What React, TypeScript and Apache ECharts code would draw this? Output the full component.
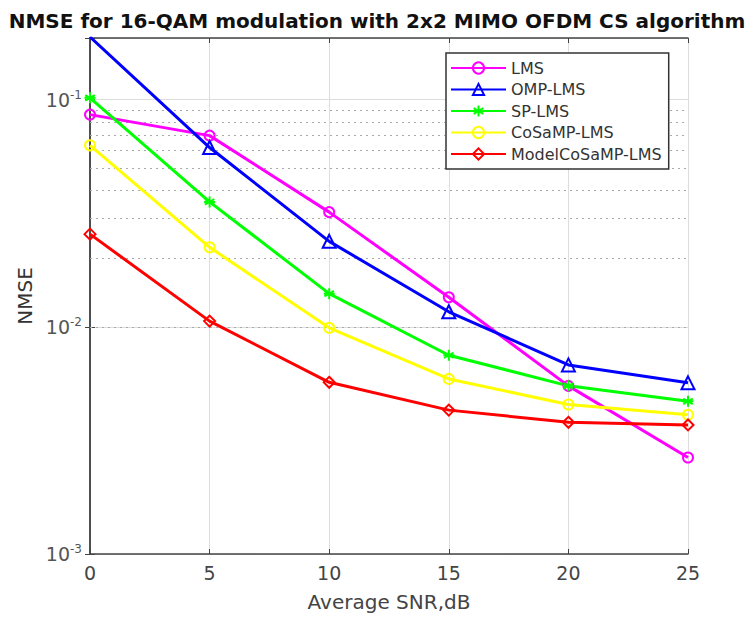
import React, { useEffect, useRef } from "react";
import * as echarts from "echarts";

const snr = [0, 5, 10, 15, 20, 25];
const lms = [0.086, 0.0695, 0.032, 0.0135, 0.0055, 0.00266];
const ompLms = [0.189, 0.0616, 0.0238, 0.01165, 0.0068, 0.00567];
const spLms = [0.102, 0.0355, 0.014, 0.0075, 0.0055, 0.0047];
const cosampLms = [0.063, 0.0224, 0.0099, 0.0059, 0.00455, 0.0041];
const modelCosampLms = [0.0256, 0.0106, 0.0057, 0.0043, 0.0038, 0.0037];
const seriesNames = ["LMS", "OMP-LMS", "SP-LMS", "CoSaMP-LMS", "ModelCoSaMP-LMS"];
const minorGridFull = [0.002, 0.003, 0.004, 0.005, 0.006, 0.007, 0.008, 0.009, 0.02, 0.03, 0.04, 0.05];
const minorGridBehindLegend = [0.06, 0.07, 0.08, 0.09];

const STAR = "path://M0,-10L0,10M-8.66,-5L8.66,5M-8.66,5L8.66,-5M-10,0L10,0";

export default function App() {
  const ref = useRef<HTMLDivElement>(null);
  useEffect(() => {
    document.body.style.margin = "0";
    const chart = echarts.init(ref.current!, null, { renderer: "svg" });
    const font = "DejaVu Sans";
    const legendLeftX = 14.85;
    const legendRightX = 24.25;
    const mk = (name: string, vals: number[], color: string, symbol: string, size: number) => ({
      name,
      type: "line",
      data: snr.map((x, i) => [x, vals[i]]),
      symbol,
      symbolSize: size,
      showSymbol: true,
      lineStyle: { color, width: 3 },
      itemStyle: { color: "rgba(0,0,0,0)", borderColor: color, borderWidth: 2 },
      emphasis: { disabled: true },
      z: 5,
    });
    const supLabel = (v: number) => {
      const l = Math.log10(v);
      const e = Math.round(l);
      if (Math.abs(l - e) > 1e-6) return "";
      return `{b|10}{s|${e}}`;
    };
    chart.setOption({
      animation: false,
      backgroundColor: "#fff",
      title: {
        text: "NMSE for 16-QAM modulation with 2x2 MIMO OFDM CS algorithm",
        left: "center",
        top: 6,
        textStyle: { fontFamily: font, fontWeight: "bold", fontSize: 20, color: "#111" },
      },
      grid: { left: 90, right: 66, top: 38, bottom: 61, containLabel: false },
      legend: {
        data: seriesNames,
        orient: "vertical",
        left: 446,
        top: 53,
        padding: [7, 7, 7, 4],
        itemGap: 5.5,
        itemWidth: 55,
        itemHeight: 14,
        borderColor: "#333",
        borderWidth: 1.5,
        backgroundColor: "#fff",
        textStyle: { fontFamily: font, fontSize: 16, color: "#333" },
        z: 100,
      },
      xAxis: [
        {
          type: "value",
          min: 0,
          max: 25,
          interval: 5,
          name: "Average SNR,dB",
          nameLocation: "middle",
          nameGap: 38,
          nameTextStyle: { fontFamily: font, fontSize: 20, color: "#444" },
          axisLine: { lineStyle: { color: "#444", width: 1.5 } },
          axisTick: { inside: true, length: 5, lineStyle: { color: "#444" } },
          axisLabel: { fontFamily: font, fontSize: 19, color: "#444", margin: 9 },
          splitLine: { show: true, lineStyle: { color: "#ddd", width: 1 } },
        },
        {
          type: "value",
          position: "top",
          min: 0,
          max: 25,
          interval: 5,
          axisLine: { show: true, lineStyle: { color: "#444", width: 1.5 } },
          axisTick: { show: true, inside: true, length: 5, lineStyle: { color: "#444" } },
          axisLabel: { show: false },
          splitLine: { show: false },
        },
      ],
      yAxis: [
        {
          type: "log",
          logBase: 10,
          min: 0.001,
          max: 0.187,
          name: "NMSE",
          nameLocation: "middle",
          nameGap: 54,
          nameTextStyle: { fontFamily: font, fontSize: 20, color: "#333" },
          axisLine: { show: true, lineStyle: { color: "#444", width: 1.5 } },
          axisTick: { inside: true, length: 5, lineStyle: { color: "#444" } },
          axisLabel: {
            formatter: supLabel,
            margin: 8,
            rich: {
              b: { fontFamily: font, fontSize: 19, color: "#555" },
              s: { fontFamily: font, fontSize: 12, color: "#555", padding: [0, 0, 10, 0] },
            },
          },
          splitLine: { show: true, lineStyle: { color: "#ddd", width: 1 } },
        },
        {
          type: "log",
          logBase: 10,
          min: 0.001,
          max: 0.187,
          position: "right",
          axisLine: { show: true, lineStyle: { color: "#444", width: 1.5 } },
          axisTick: { show: true, inside: true, length: 5, lineStyle: { color: "#444" } },
          axisLabel: { show: false },
          splitLine: { show: false },
        },
      ],
      series: [
        {
          name: "grid-minor",
          type: "line",
          data: [],
          silent: true,
          z: 1,
          markLine: {
            silent: true,
            symbol: "none",
            z: 1,
            label: { show: false },
            lineStyle: { type: [2, 4], color: "#aaa", width: 1 },
            data: [
              ...minorGridFull.map((v) => ({ yAxis: v })),
              ...minorGridBehindLegend.map((v) => [
                { coord: [0, v] },
                { coord: [legendLeftX, v] },
              ]),
              ...minorGridBehindLegend.map((v) => [
                { coord: [legendRightX, v] },
                { coord: [25, v] },
              ]),
            ],
          },
        },
        mk(seriesNames[0], lms, "#ff00ff", "circle", 10),
        mk(seriesNames[1], ompLms, "#0000ff", "triangle", 13),
        mk(seriesNames[2], spLms, "#00ff00", STAR, 11),
        mk(seriesNames[3], cosampLms, "#ffff00", "circle", 10),
        mk(seriesNames[4], modelCosampLms, "#ff0000", "diamond", 11),
      ],
    });
    return () => chart.dispose();
  }, []);
  return <div ref={ref} style={{ width: 754, height: 617 }} />;
}
